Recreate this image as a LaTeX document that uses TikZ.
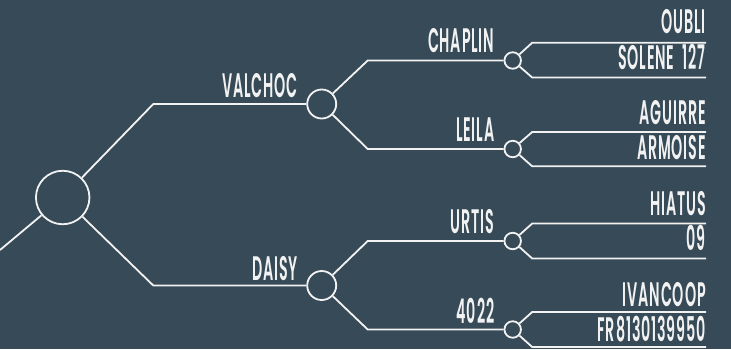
\documentclass[tikz,border=0pt]{standalone}
\usepackage{fontspec}
\newfontfamily\labfont{Poppins SemiBold}[FakeStretch=0.42,LetterSpace=2.5,WordSpace=2]
\definecolor{bg}{HTML}{364A57}
\definecolor{fg}{HTML}{F2F2F2}
\begin{document}
\begin{tikzpicture}[x=1pt,y=-1pt,
  conn/.style={draw=fg,line width=1.8pt},
  c0/.style={circle,draw=fg,line width=1.8pt,minimum size=53.5pt,inner sep=0pt},
  c1/.style={circle,draw=fg,line width=1.8pt,minimum size=29pt,inner sep=0pt},
  c2/.style={circle,draw=fg,line width=1.8pt,minimum size=16.5pt,inner sep=0pt},
  lab/.style={anchor=base east,inner sep=0pt,text depth=0pt,text=fg,font=\labfont\fontsize{34}{34}\selectfont}]
\fill[bg] (0,0) rectangle (731,349);
\useasboundingbox (0,0) rectangle (731,349);
% nodes
\node[c0] (root) at (62.7,197.5) {};
\node[c1] (valchoc) at (321.7,104) {};
\node[c1] (daisy) at (321.7,285.5) {};
\node[c2] (chaplin) at (512.7,60.5) {};
\node[c2] (leila) at (512.7,149) {};
\node[c2] (urtis) at (512.7,241) {};
\node[c2] (n4022) at (512.7,329.5) {};
% bends and ends
\coordinate (lend) at (0,250);
\coordinate (b1) at (153.3,104);
\coordinate (b2) at (153.3,285.5);
\coordinate (b11) at (367.7,60.5);
\coordinate (b12) at (367.7,149);
\coordinate (b21) at (367.7,241);
\coordinate (b22) at (367.7,329.5);
\foreach \n/\y in {a/42.7,b/77.5,c/132,d/166.3,e/223.5,f/258.5,g/312,h/347}{
  \coordinate (k\n) at (532.2,\y);
  \coordinate (e\n) at (706,\y);
}
% connectors
\draw[conn] (root) -- (lend);
\draw[conn] (root) -- (b1) -- (valchoc);
\draw[conn] (root) -- (b2) -- (daisy);
\draw[conn] (valchoc) -- (b11) -- (chaplin);
\draw[conn] (valchoc) -- (b12) -- (leila);
\draw[conn] (daisy) -- (b21) -- (urtis);
\draw[conn] (daisy) -- (b22) -- (n4022);
\draw[conn] (chaplin) -- (ka) -- (ea);
\draw[conn] (chaplin) -- (kb) -- (eb);
\draw[conn] (leila) -- (kc) -- (ec);
\draw[conn] (leila) -- (kd) -- (ed);
\draw[conn] (urtis) -- (ke) -- (ee);
\draw[conn] (urtis) -- (kf) -- (ef);
\draw[conn] (n4022) -- (kg) -- (eg);
\draw[conn] (n4022) -- (kh) -- (eh);
% labels
\node[lab] (tvalchoc) at (298,97.3) {VALCHOC};
\node[lab] (tdaisy) at (298,280) {DAISY};
\node[lab] (tchaplin) at (494.5,52.3) {CHAPLIN};
\node[lab] (tleila) at (494.5,141.7) {LEILA};
\node[lab] (turtis) at (494.5,233.3) {URTIS};
\node[lab] (t4022) at (494.5,323.3) {4022};
\node[lab] (ta) at (706,33.5) {OUBLI};
\node[lab] (tb) at (706,69) {SOLENE 127};
\node[lab] (tc) at (706,124) {AGUIRRE};
\node[lab] (td) at (706,159) {ARMOISE};
\node[lab] (te) at (706,215.5) {HIATUS};
\node[lab] (tf) at (706,250.5) {09};
\node[lab] (tg) at (706,306.5) {IVANCOOP};
\node[lab] (th) at (706,341.5) {FR8130139950};
\end{tikzpicture}
\end{document}
